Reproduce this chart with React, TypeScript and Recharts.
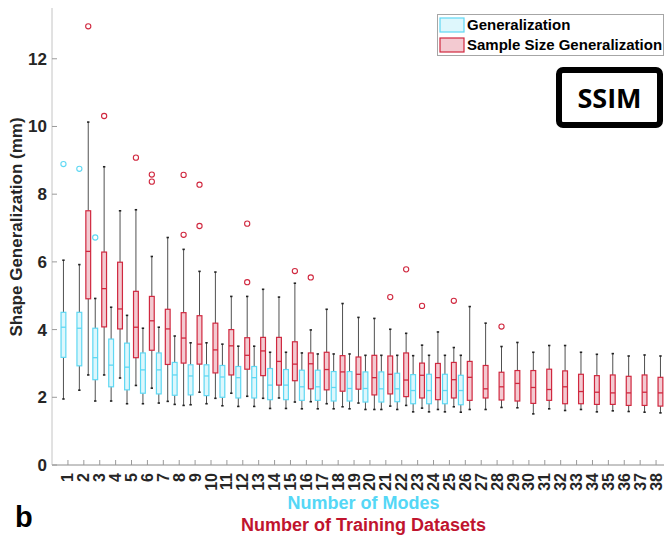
import { BarChart, Bar, XAxis, YAxis } from 'recharts';

// x categories (tick labels)
const categories = [
  '1', '2', '3', '4', '5', '6', '7', '8', '9', '10',
  '11', '12', '13', '14', '15', '16', '17', '18', '19', '20',
  '21', '22', '23', '24', '25', '26', '27', '28', '29', '30',
  '31', '32', '33', '34', '35', '36', '37', '38',
];
const yTicks = [0, 2, 4, 6, 8, 10, 12];

// Generalization (number of modes 1..26)
const genLow = [1.95, 2.21, 1.89, 1.89, 1.81, 1.81, 1.83, 1.79, 1.78, 1.81, 1.75, 1.73, 1.73, 1.67, 1.67, 1.66, 1.66, 1.66, 1.66, 1.64, 1.64, 1.64, 1.57, 1.57, 1.57, 1.56];
const genQ1 = [3.18, 2.93, 2.52, 2.31, 2.22, 2.12, 2.10, 2.06, 2.07, 2.05, 2.00, 1.98, 1.98, 1.93, 1.93, 1.91, 1.91, 1.89, 1.89, 1.86, 1.86, 1.87, 1.81, 1.81, 1.81, 1.78];
const genMedian = [4.07, 4.04, 3.17, 2.95, 2.89, 2.81, 2.81, 2.66, 2.63, 2.63, 2.60, 2.58, 2.58, 2.36, 2.36, 2.31, 2.31, 2.29, 2.26, 2.26, 2.25, 2.25, 2.20, 2.20, 2.20, 2.20];
const genQ3 = [4.51, 4.51, 4.04, 3.72, 3.60, 3.31, 3.31, 3.03, 2.96, 2.96, 2.94, 2.91, 2.91, 2.85, 2.82, 2.80, 2.80, 2.76, 2.76, 2.75, 2.75, 2.71, 2.67, 2.68, 2.68, 2.65];
const genHigh = [6.05, 5.92, 4.92, 4.66, 4.42, 4.04, 4.07, 3.81, 3.61, 3.61, 3.57, 3.51, 3.51, 3.33, 3.33, 3.31, 3.28, 3.28, 3.28, 3.24, 3.24, 3.24, 3.23, 3.24, 3.24, 3.24];
const genOutliers: [number, number][] = [[1, 8.89], [2, 8.75], [3, 6.72]];

// Sample size generalization (number of training datasets 2..38)
const ssgStart = 2;
const ssgLow = [2.66, 2.66, 2.57, 2.35, 2.27, 1.88, 1.76, 2.15, 1.97, 2.12, 2.03, 1.97, 1.98, 1.86, 1.87, 1.81, 1.72, 1.83, 1.64, 1.74, 1.76, 1.68, 1.64, 1.72, 1.64, 1.64, 1.70, 1.69, 1.51, 1.66, 1.61, 1.64, 1.57, 1.60, 1.58, 1.56, 1.54];
const ssgQ1 = [4.91, 4.08, 4.02, 3.17, 3.39, 2.97, 3.01, 2.98, 2.72, 2.66, 2.83, 2.64, 2.36, 2.49, 2.25, 2.22, 2.18, 2.24, 2.07, 2.10, 2.02, 1.98, 1.93, 1.98, 1.91, 1.98, 1.92, 1.89, 1.82, 1.91, 1.81, 1.81, 1.79, 1.79, 1.76, 1.76, 1.74];
const ssgMedian = [6.31, 5.21, 4.61, 4.07, 4.26, 4.02, 3.75, 3.57, 3.40, 3.52, 3.24, 3.37, 3.06, 2.98, 2.99, 2.82, 2.75, 2.68, 2.58, 2.68, 2.51, 2.65, 2.58, 2.52, 2.59, 2.25, 2.31, 2.41, 2.29, 2.23, 2.31, 2.17, 2.15, 2.13, 2.13, 2.15, 2.13];
const ssgQ3 = [7.51, 6.29, 5.99, 5.13, 4.98, 4.60, 4.50, 4.41, 4.19, 4.00, 3.76, 3.77, 3.77, 3.64, 3.31, 3.33, 3.23, 3.19, 3.24, 3.22, 3.31, 3.01, 3.00, 3.03, 3.06, 2.94, 2.74, 2.79, 2.79, 2.83, 2.78, 2.68, 2.64, 2.66, 2.62, 2.66, 2.59];
const ssgHigh = [10.13, 8.81, 7.51, 7.54, 6.16, 6.72, 6.37, 5.72, 5.70, 4.98, 4.98, 5.19, 4.96, 5.37, 3.99, 4.60, 4.77, 4.36, 4.33, 4.01, 3.89, 3.54, 3.93, 3.47, 4.68, 4.19, 3.50, 3.62, 3.33, 3.53, 3.53, 3.33, 3.27, 3.29, 3.22, 3.25, 3.22];
const ssgOutliers: [number, number][] = [
  [2, 12.96], [3, 10.31], [5, 9.08], [6, 8.58], [6, 8.37], [8, 8.57], [8, 6.8],
  [9, 8.28], [9, 7.06], [12, 7.13], [12, 5.4], [15, 5.73], [16, 5.54], [21, 4.96],
  [22, 5.78], [23, 4.7], [25, 4.85], [28, 4.09],
];

const FONT = '"Liberation Sans", Arial, sans-serif';
const TEXT = '#262626';
const GEN_STROKE = '#5fd8f3';
const GEN_FILL = '#def7fc';
const SSG_STROKE = '#d0283f';
const SSG_FILL = '#f3cad1';
const WHISKER = '#505050';

interface BoxStats {
  lo: number;
  q1: number;
  med: number;
  q3: number;
  hi: number;
  out: number[];
}

const rows = categories.map((name, i) => {
  const pos = i + 1;
  const g = pos - 1;
  const s = pos - ssgStart;
  const gen: BoxStats | null = g < genMedian.length
    ? {
        lo: genLow[g], q1: genQ1[g], med: genMedian[g], q3: genQ3[g], hi: genHigh[g],
        out: genOutliers.filter(o => o[0] === pos).map(o => o[1]),
      }
    : null;
  const ssg: BoxStats | null = s >= 0 && s < ssgMedian.length
    ? {
        lo: ssgLow[s], q1: ssgQ1[s], med: ssgMedian[s], q3: ssgQ3[s], hi: ssgHigh[s],
        out: ssgOutliers.filter(o => o[0] === pos).map(o => o[1]),
      }
    : null;
  return { name, gen, ssg };
});

// draws a box plot inside the range bar (whisker low..high), using the bar's own pixel span
function boxShape(key: 'gen' | 'ssg', stroke: string, fill: string) {
  return (props: any) => {
    const { x, y, width, height, payload } = props;
    const b: BoxStats | null = payload ? payload[key] : null;
    if (!b || !Number.isFinite(y) || !height) return <g />;
    const top = Math.min(y, y + height);
    const h = Math.abs(height);
    const py = (v: number) => top + ((b.hi - v) / (b.hi - b.lo)) * h;
    const cx = x + width / 2;
    const bw = 4.8;
    return (
      <g>
        <line x1={cx} x2={cx} y1={py(b.hi)} y2={py(b.q3)} stroke={WHISKER} strokeWidth={1} />
        <line x1={cx} x2={cx} y1={py(b.q1)} y2={py(b.lo)} stroke={WHISKER} strokeWidth={1} />
        <line x1={cx - 1.2} x2={cx + 1.2} y1={py(b.hi)} y2={py(b.hi)} stroke="#222" strokeWidth={1.6} />
        <line x1={cx - 1.2} x2={cx + 1.2} y1={py(b.lo)} y2={py(b.lo)} stroke="#222" strokeWidth={1.6} />
        <rect
          x={cx - bw / 2}
          y={py(b.q3)}
          width={bw}
          height={py(b.q1) - py(b.q3)}
          fill={fill}
          stroke={stroke}
          strokeWidth={1.2}
        />
        <line x1={cx - bw / 2} x2={cx + bw / 2} y1={py(b.med)} y2={py(b.med)} stroke={stroke} strokeWidth={1.3} />
        {b.out.map((v, k) => (
          <circle key={k} cx={cx} cy={py(v)} r={2.6} fill="none" stroke={stroke} strokeWidth={1.1} />
        ))}
      </g>
    );
  };
}

const XTick = ({ x, y, payload }: any) => (
  <g>
    <line x1={x} x2={x} y1={y - 8} y2={y - 13} stroke="#9a9a9a" strokeWidth={1} />
    <text
      transform={`translate(${x + 5.5},${y}) rotate(-90)`}
      textAnchor="end"
      fontSize={16}
      fontWeight="bold"
      fontFamily={FONT}
      fill={TEXT}
    >
      {payload.value}
    </text>
  </g>
);

const YTick = ({ x, y, payload }: any) => (
  <g>
    <line x1={x + 5} x2={x + 10} y1={y} y2={y} stroke="#9a9a9a" strokeWidth={1} />
    <text x={x} y={y} dy={6} textAnchor="end" fontSize={17} fontWeight="bold" fontFamily={FONT} fill={TEXT}>
      {payload.value}
    </text>
  </g>
);

export default function App() {
  return (
    <div style={{ position: 'absolute', left: 0, top: 0, width: 665, height: 535, background: '#fff', fontFamily: FONT }}>
      <BarChart
        width={665}
        height={535}
        data={rows}
        margin={{ top: 8, right: 1, left: 0, bottom: 0 }}
        barSize={6.9}
        barGap={2}
      >
        <XAxis
          dataKey="name"
          type="category"
          interval={0}
          padding={{ left: 8, right: 0 }}
          height={70}
          tickSize={0}
          tickMargin={8}
          tickLine={false}
          stroke="#8c8c8c"
          tick={<XTick />}
        />
        <YAxis
          type="number"
          domain={[0, 13.5]}
          ticks={yTicks}
          width={52}
          tickSize={0}
          tickMargin={5}
          tickLine={false}
          stroke="#c4c4c4"
          tick={<YTick />}
        />
        <Bar
          dataKey={(d: any) => (d.gen ? [d.gen.lo, d.gen.hi] : null)}
          name="Generalization"
          shape={boxShape('gen', GEN_STROKE, GEN_FILL)}
          isAnimationActive={false}
        />
        <Bar
          dataKey={(d: any) => (d.ssg ? [d.ssg.lo, d.ssg.hi] : null)}
          name="Sample Size Generalization"
          shape={boxShape('ssg', SSG_STROKE, SSG_FILL)}
          isAnimationActive={false}
        />
      </BarChart>

      {/* titles, legend and the SSIM tag */}
      <svg width={665} height={535} style={{ position: 'absolute', left: 0, top: 0, pointerEvents: 'none' }}>
        <text
          transform="translate(22,227) rotate(-90)"
          textAnchor="middle"
          fontSize={17}
          fontWeight="bold"
          fill={TEXT}
        >
          Shape Generalization (mm)
        </text>
        <text x={363.5} y={509} textAnchor="middle" fontSize={18} fontWeight="bold" fill="#55d7f6">
          Number of Modes
        </text>
        <text x={363.5} y={531} textAnchor="middle" fontSize={18} fontWeight="bold" fill="#c0142e">
          Number of Training Datasets
        </text>
        <text x={15} y={527} fontSize={29} fontWeight="bold" fill="#000">
          b
        </text>

        <rect x={437.5} y={14.5} width={226} height={41} fill="#fff" stroke="#a6a6a6" strokeWidth={1} />
        <rect x={440} y={18} width={24} height={14} fill={GEN_FILL} stroke={GEN_STROKE} strokeWidth={1.2} />
        <rect x={440} y={38} width={24} height={14} fill={SSG_FILL} stroke={SSG_STROKE} strokeWidth={1.2} />
        <text x={467} y={30} fontSize={15} fontWeight="bold" fill="#000">Generalization</text>
        <text x={467} y={50} fontSize={15} fontWeight="bold" fill="#000">Sample Size Generalization</text>

        <rect x={559} y={70} width={101} height={55} rx={4} fill="#fff" stroke="#000" strokeWidth={6} />
        <text
          x={609.5}
          y={108}
          textAnchor="middle"
          fontSize={27}
          fontWeight="bold"
          fontFamily='"Open Sans", sans-serif'
          fill="#000"
        >
          SSIM
        </text>
      </svg>
    </div>
  );
}
